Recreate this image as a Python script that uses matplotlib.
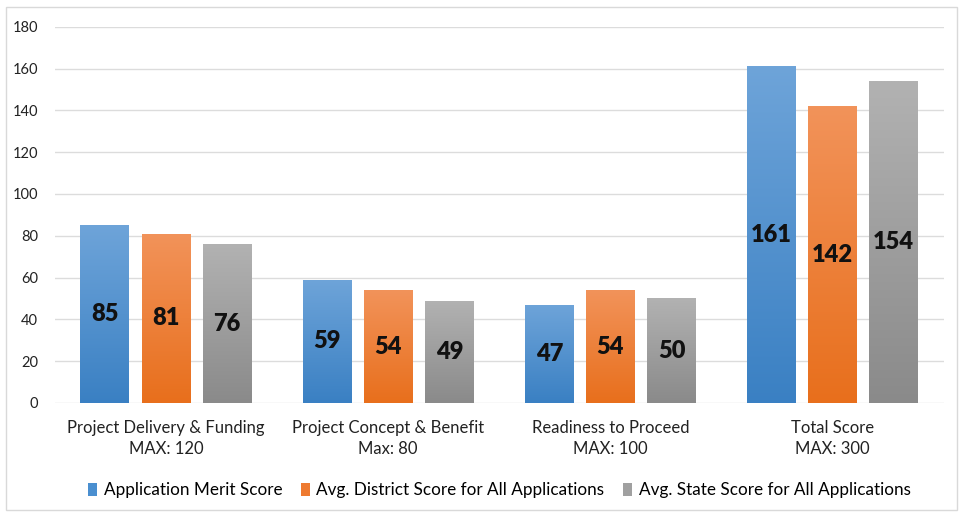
import matplotlib
matplotlib.use("Agg")
import matplotlib.pyplot as plt
import numpy as np
from matplotlib.colors import LinearSegmentedColormap
from matplotlib.patches import Rectangle

plt.rcParams['font.family'] = ['Lato', 'DejaVu Sans']

categories = ["Project Delivery & Funding\nMAX: 120",
              "Project Concept & Benefit\nMax: 80",
              "Readiness to Proceed\nMAX: 100",
              "Total Score\nMAX: 300"]
series_names = ["Application Merit Score",
                "Avg. District Score for All Applications",
                "Avg. State Score for All Applications"]
merit = [85, 59, 47, 161]
district = [81, 54, 54, 142]
state = [76, 49, 50, 154]
yticks = [0, 20, 40, 60, 80, 100, 120, 140, 160, 180]

# (top colour, bottom colour) for each series' vertical gradient
grad_colors = [("#6ea4d9", "#3a80c3"),
               ("#f2935a", "#e86f1c"),
               ("#b2b2b2", "#8a8a8a")]
legend_colors = ["#4a8fd0", "#ee7a30", "#a0a0a0"]

fig = plt.figure(figsize=(9.63, 5.15), dpi=100)
fig.patches.append(Rectangle((0.006, 0.01), 0.988, 0.977, transform=fig.transFigure,
                             fill=False, edgecolor="#d9d9d9", linewidth=1.0))
ax = fig.add_axes([0.057, 0.2175, 0.923, 0.7305])

x = np.arange(len(categories))
width = 0.22
step = 0.275
all_series = [merit, district, state]

for i, (vals, name) in enumerate(zip(all_series, series_names)):
    pos = x + (i - 1) * step
    bars = ax.bar(pos, vals, width, color=legend_colors[i], label=name,
                  zorder=2, linewidth=0)
    cmap = LinearSegmentedColormap.from_list(f"g{i}", [grad_colors[i][1], grad_colors[i][0]])
    for b, v in zip(bars, vals):
        x0 = b.get_x()
        x1 = x0 + b.get_width()
        grad = np.linspace(0, 1, 256).reshape(-1, 1)
        im = ax.imshow(grad, cmap=cmap, aspect="auto", origin="lower",
                       extent=[x0, x1, 0, v], zorder=3)
        im.set_clip_path(b)
        ax.text(b.get_x() + b.get_width() / 2, v / 2, f"{v}", ha="center",
                va="center", fontsize=17, fontweight="heavy", color="#111111", zorder=4)

ax.set_xlim(-0.5, len(categories) - 0.5)
ax.set_ylim(0, 180)
ax.set_yticks(yticks)
ax.set_yticklabels([str(t) for t in yticks], fontsize=10.5, color="#222222")
ax.set_xticks(x)
ax.set_xticklabels(categories, fontsize=12, color="#222222", linespacing=1.4)
ax.tick_params(axis="both", length=0)
ax.tick_params(axis="y", pad=12)
ax.tick_params(axis="x", pad=12)
ax.yaxis.grid(True, color="#dcdcdc", linewidth=1.0, zorder=0)
ax.set_axisbelow(True)
for s in ax.spines.values():
    s.set_visible(False)

leg = ax.legend(loc="upper center", bbox_to_anchor=(0.5, -0.17), ncol=3,
                frameon=False, fontsize=12.3, handlelength=0.5, handleheight=0.75,
                handletextpad=0.4, columnspacing=1.1)

fig.savefig("out.png", dpi=100)
